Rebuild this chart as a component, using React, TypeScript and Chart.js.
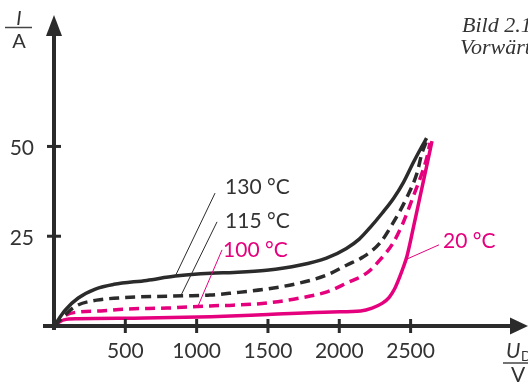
import React, { useEffect, useRef } from "react";
import { Chart, registerables } from "chart.js";

Chart.register(...registerables);

// Axis ticks
const xTickValues = [500, 1000, 1500, 2000, 2500];
const yTickValues = [25, 50];

// Series labels
const seriesLabels = ["130 °C", "115 °C", "100 °C", "20 °C"];

// 130 °C (solid black)
const u130 = [0, 80, 170, 290, 420, 650, 850, 1100, 1260, 1490, 1720, 1910, 2050, 2140, 2220, 2300, 2380, 2450, 2520, 2575, 2612];
const i130 = [0, 4.5, 7.8, 10.3, 11.6, 12.7, 13.9, 14.7, 14.9, 15.5, 16.9, 18.9, 21.6, 24.2, 27.6, 31.4, 35.5, 40.0, 45.6, 49.7, 52.3];

// 115 °C (dashed black)
const u115 = [0, 147, 300, 455, 600, 905, 1094, 1255, 1493, 1725, 1914, 2054, 2166, 2285, 2377, 2475, 2545, 2580, 2618];
const i115 = [0, 5.4, 7.2, 7.8, 8.1, 8.4, 8.6, 9.2, 10.3, 12.0, 14.2, 17.0, 19.2, 23.1, 28.7, 35.9, 42.6, 48.2, 52.0];

// 100 °C (dashed pink)
const u100 = [0, 60, 168, 330, 491, 792, 1094, 1255, 1493, 1725, 1914, 2054, 2194, 2285, 2377, 2447, 2517, 2580, 2615, 2636];
const i100 = [0, 2.5, 3.9, 4.2, 4.7, 5.0, 5.6, 5.8, 6.4, 7.8, 9.5, 12.0, 14.8, 18.4, 23.1, 28.7, 35.9, 42.6, 47.1, 51.0];

// 20 °C (solid pink)
const u20 = [0, 70, 170, 640, 1100, 1500, 1950, 2150, 2230, 2300, 2350, 2390, 2425, 2450, 2475, 2520, 2565, 2610, 2650];
const i20 = [0, 1.7, 2.0, 2.2, 2.6, 3.2, 3.9, 4.2, 5.0, 6.3, 8.0, 10.5, 13.8, 16.5, 19.5, 27.5, 35.8, 44.0, 51.5];

const BLACK = "#2b2b2b";
const PINK = "#e5007d";
const TEXT = "#333333";

const pts = (u: number[], i: number[]) => u.map((v, k) => ({ x: v, y: i[k] }));

// label anchors in data coordinates: [textX, textY, leaderFromX, leaderFromY, leaderToX, leaderToY]
const labelAnchors = [
  [1199, 38.7, 1129, 37.0, 848, 13.7],
  [1199, 29.2, 1143, 29.0, 890, 8.5],
  [1185, 21.2, 1178, 21.2, 1010, 5.6],
  [2727, 23.7, 2699, 22.6, 2472, 18.6],
];
const labelColors = [BLACK, BLACK, PINK, PINK];

const decor = {
  id: "decor",
  afterDraw(chart: any) {
    const ctx: CanvasRenderingContext2D = chart.ctx;
    const xs = chart.scales.x;
    const ys = chart.scales.y;
    const x0 = xs.getPixelForValue(0);
    const y0 = ys.getPixelForValue(0);
    const top = chart.chartArea.top;
    const right = chart.chartArea.right;
    ctx.save();
    ctx.strokeStyle = BLACK;
    ctx.fillStyle = BLACK;
    ctx.lineCap = "butt";
    // y axis
    ctx.lineWidth = 4;
    ctx.beginPath();
    ctx.moveTo(x0, y0 + 4);
    ctx.lineTo(x0, top + 18);
    ctx.stroke();
    ctx.beginPath();
    ctx.moveTo(x0, top);
    ctx.lineTo(x0 - 8, top + 21);
    ctx.lineTo(x0 + 8, top + 21);
    ctx.closePath();
    ctx.fill();
    // x axis
    ctx.beginPath();
    ctx.moveTo(x0 - 11, y0);
    ctx.lineTo(right - 15, y0);
    ctx.stroke();
    ctx.beginPath();
    ctx.moveTo(right + 1, y0);
    ctx.lineTo(right - 17, y0 - 8.5);
    ctx.lineTo(right - 17, y0 + 8.5);
    ctx.closePath();
    ctx.fill();
    // tick marks
    ctx.lineWidth = 3;
    for (const v of xTickValues) {
      const px = xs.getPixelForValue(v);
      ctx.beginPath();
      ctx.moveTo(px, y0 - 7);
      ctx.lineTo(px, y0 + 7);
      ctx.stroke();
    }
    for (const v of yTickValues) {
      const py = ys.getPixelForValue(v);
      ctx.beginPath();
      ctx.moveTo(x0 - 7, py);
      ctx.lineTo(x0 + 7, py);
      ctx.stroke();
    }
    // tick labels
    ctx.fillStyle = TEXT;
    ctx.font = "21px Lato";
    ctx.textBaseline = "middle";
    ctx.textAlign = "center";
    for (const v of xTickValues) {
      ctx.fillText(String(v), xs.getPixelForValue(v), y0 + 25);
    }
    ctx.textAlign = "right";
    for (const v of yTickValues) {
      ctx.fillText(String(v), x0 - 20, ys.getPixelForValue(v) + 2);
    }
    // series labels with leader lines
    ctx.textAlign = "left";
    labelAnchors.forEach((a, k) => {
      ctx.strokeStyle = labelColors[k];
      ctx.fillStyle = labelColors[k] === BLACK ? TEXT : PINK;
      ctx.lineWidth = 1;
      ctx.beginPath();
      ctx.moveTo(xs.getPixelForValue(a[2]), ys.getPixelForValue(a[3]));
      ctx.lineTo(xs.getPixelForValue(a[4]), ys.getPixelForValue(a[5]));
      ctx.stroke();
      ctx.fillText(seriesLabels[k], xs.getPixelForValue(a[0]), ys.getPixelForValue(a[1]));
    });
    // axis unit labels
    ctx.fillStyle = TEXT;
    ctx.strokeStyle = "#444";
    ctx.lineWidth = 1.5;
    ctx.textAlign = "center";
    ctx.textBaseline = "alphabetic";
    ctx.font = "italic 20px Lato";
    ctx.fillText("I", 19, 25);
    ctx.beginPath();
    ctx.moveTo(5, 27.5);
    ctx.lineTo(32, 27.5);
    ctx.stroke();
    ctx.font = "20px Lato";
    ctx.fillText("A", 19, 48);
    ctx.textAlign = "left";
    ctx.font = "italic 21px Lato";
    ctx.fillText("U", 506, 358);
    ctx.font = "13px Lato";
    ctx.fillText("D", 521, 361);
    ctx.beginPath();
    ctx.moveTo(503, 363);
    ctx.lineTo(528, 363);
    ctx.stroke();
    ctx.textAlign = "center";
    ctx.font = "21px Lato";
    ctx.fillText("V", 518, 382);
    // caption
    ctx.textAlign = "left";
    ctx.font = "italic 22px 'Liberation Serif'";
    ctx.fillText("Bild 2.1", 462, 32);
    ctx.fillText("Vorwärts", 460, 54);
    ctx.restore();
  },
};

export default function App() {
  const ref = useRef<HTMLCanvasElement | null>(null);
  useEffect(() => {
    if (!ref.current) return;
    const chart = new Chart(ref.current, {
      type: "line",
      data: {
        datasets: [
          { label: seriesLabels[0], data: pts(u130, i130), borderColor: BLACK, borderWidth: 3.5 },
          { label: seriesLabels[1], data: pts(u115, i115), borderColor: BLACK, borderWidth: 3.5, borderDash: [10, 6] },
          { label: seriesLabels[2], data: pts(u100, i100), borderColor: PINK, borderWidth: 3.5, borderDash: [10, 6] },
          { label: seriesLabels[3], data: pts(u20, i20), borderColor: PINK, borderWidth: 3.5 },
        ].map((d) => ({ ...d, pointRadius: 0, fill: false, cubicInterpolationMode: "monotone" as const, borderCapStyle: "butt" as const })),
      },
      options: {
        responsive: false,
        devicePixelRatio: 1,
        animation: false,
        layout: { padding: { left: 54, right: 1, top: 15, bottom: 56 } },
        plugins: { legend: { display: false }, tooltip: { enabled: false } },
        scales: {
          x: { type: "linear", min: 0, max: 3316, display: false },
          y: { type: "linear", min: 0, max: 86.6, display: false },
        },
      },
      plugins: [decor],
    });
    return () => chart.destroy();
  }, []);
  return (
    <div style={{ position: "fixed", left: 0, top: 0, width: 528, height: 382, background: "#fff" }}>
      <canvas ref={ref} width={528} height={382} />
    </div>
  );
}
